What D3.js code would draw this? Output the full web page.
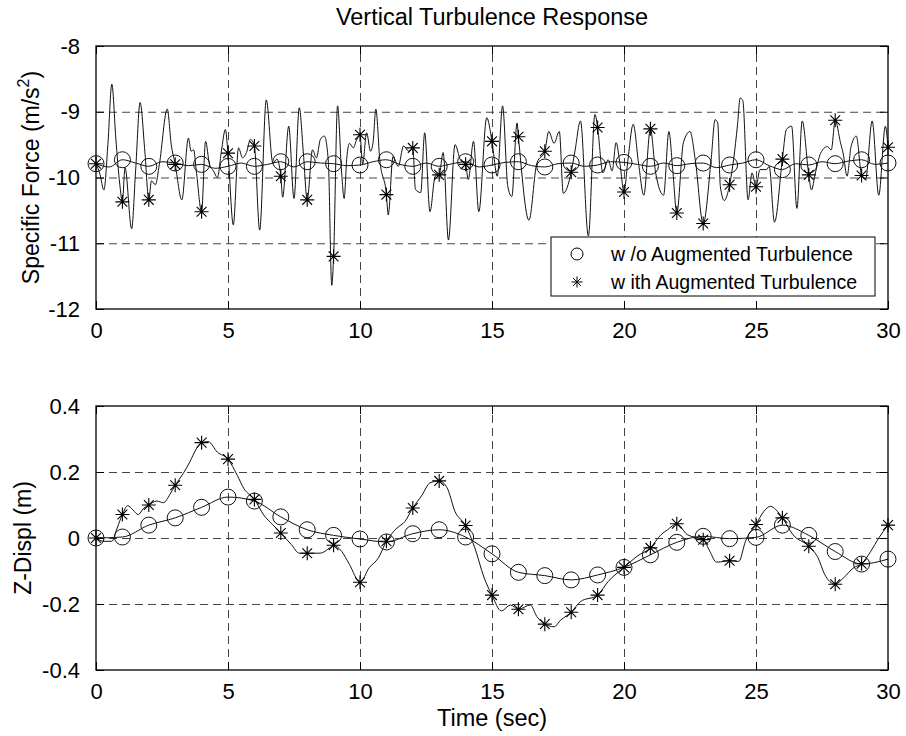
<!DOCTYPE html>
<html lang="en">
<head>
  <meta charset="UTF-8">
  <title>Vertical Turbulence Response</title>
  <script src="https://cdn.jsdelivr.net/npm/d3@7"></script>
  <style>
    body { margin: 0; background: #fff; }
    svg { display: block; font-family: "Liberation Sans", Arial, sans-serif; }
    .tick text { font-size: 22px; fill: #000; }
    .grid line { stroke: #444; stroke-dasharray: 8,5; }
    .grid path { display: none; }
    .inner path { display: none; }
    .inner line { stroke: #000; }
  </style>
</head>
<body>
<div id="chart"></div>
<script>
  // tick values
  const timeTicks = [0, 5, 10, 15, 20, 25, 30];
  const forceTicks = [-12, -11, -10, -9, -8];
  const displTicks = [-0.4, -0.2, 0, 0.2, 0.4];

  // specific force, without augmented turbulence (circles at whole seconds)
  const forceWoT = [0, 0.5, 1, 1.5, 2, 2.5, 3, 3.5, 4, 4.5, 5, 5.5, 6, 6.5, 7, 7.5, 8, 8.5, 9, 9.5, 10,
    10.5, 11, 11.5, 12, 12.5, 13, 13.5, 14, 14.5, 15, 15.5, 16, 16.5, 17, 17.5, 18, 18.5, 19, 19.5, 20,
    20.5, 21, 21.5, 22, 22.5, 23, 23.5, 24, 24.5, 25, 25.5, 26, 26.5, 27, 27.5, 28, 28.5, 29, 29.5, 30];
  const forceWoV = [-9.79, -9.84, -9.73, -9.78, -9.83, -9.76, -9.78, -9.82, -9.80, -9.86, -9.83, -9.78,
    -9.83, -9.80, -9.76, -9.84, -9.76, -9.78, -9.79, -9.82, -9.81, -9.76, -9.73, -9.80, -9.83, -9.78,
    -9.83, -9.79, -9.76, -9.84, -9.81, -9.77, -9.76, -9.82, -9.84, -9.79, -9.78, -9.83, -9.81, -9.76,
    -9.77, -9.80, -9.83, -9.78, -9.82, -9.79, -9.78, -9.85, -9.81, -9.78, -9.73, -9.82, -9.88, -9.79,
    -9.81, -9.76, -9.79, -9.75, -9.73, -9.80, -9.78];

  // specific force, with augmented turbulence (stars at whole seconds)
  const forceWithT = [0, 0.15, 0.3, 0.45, 0.6, 0.75, 0.9, 1, 1.1, 1.35, 1.5, 1.67, 1.85, 2, 2.1, 2.25, 2.4,
    2.7, 2.85, 3, 3.25, 3.5, 3.6, 3.7, 3.8, 4, 4.15, 4.3, 4.45, 4.6, 4.75, 4.9, 5, 5.2, 5.4, 5.55,
    5.7, 5.85, 6, 6.2, 6.45, 6.7, 6.85, 7, 7.07, 7.3, 7.5, 7.7, 7.85, 8, 8.2, 8.35, 8.5, 8.65, 8.8,
    8.93, 9, 9.15, 9.3, 9.4, 9.5, 9.6, 9.75, 9.85, 10, 10.1, 10.25, 10.4, 10.5, 10.6, 10.75, 11, 11.07,
    11.25, 11.45, 11.65, 11.85, 12, 12.1, 12.3, 12.45, 12.65, 12.85, 13, 13.15, 13.35, 13.6, 13.8, 14,
    14.1, 14.3, 14.5, 14.8, 15, 15.2, 15.4, 15.6, 15.75, 15.95, 16, 16.4, 16.7, 17, 17.15, 17.35, 17.55,
    17.7, 18, 18.15, 18.35, 18.65, 18.9, 19, 19.2, 19.4, 19.55, 19.7, 19.85, 20, 20.15, 20.35, 20.55,
    20.75, 21, 21.2, 21.5, 21.7, 21.85, 22, 22.25, 22.5, 22.7, 23, 23.3, 23.45, 23.55, 23.65, 23.8, 24,
    24.15, 24.3, 24.4, 24.5, 24.7, 24.85, 25, 25.15, 25.4, 25.5, 25.7, 26, 26.15, 26.35, 26.55, 26.75,
    27, 27.1, 27.25, 27.45, 27.7, 27.85, 28, 28.2, 28.3, 28.45, 28.6, 28.8, 29, 29.15, 29.4, 29.65,
    29.9, 30];
  const forceWithV = [-9.79, -9.95, -10.19, -9.5, -8.58, -9.4, -10.1, -10.37, -9.85, -10.78, -9.9, -8.86,
    -9.6, -10.34, -10.05, -10.11, -9.8, -8.96, -9.5, -9.8, -10.34, -9.4, -9.6, -9.58, -9.9, -10.52,
    -9.45, -9.8, -9.9, -10.0, -9.6, -9.27, -9.63, -10.72, -9.55, -9.7, -9.62, -9.42, -9.52, -10.8,
    -8.82, -9.78, -9.72, -9.98, -10.3, -9.22, -10.32, -8.94, -9.6, -10.34, -9.58, -9.7, -9.42, -9.37,
    -9.75, -11.64, -11.2, -8.91, -9.9, -10.32, -9.7, -9.48, -9.55, -9.45, -9.35, -9.8, -9.32, -9.6,
    -9.45, -8.96, -9.73, -10.26, -10.57, -9.68, -9.83, -9.52, -9.6, -9.55, -10.18, -10.23, -9.32,
    -10.52, -9.98, -9.96, -9.62, -10.95, -9.5, -9.73, -9.8, -10.03, -9.45, -10.52, -9.09, -9.45,
    -9.98, -8.91, -10.14, -10.29, -9.17, -9.38, -10.65, -9.78, -9.6, -9.3, -9.48, -9.3, -10.24, -9.92,
    -9.58, -9.14, -10.89, -9.04, -9.24, -9.93, -9.73, -9.9, -9.47, -9.8, -10.22, -9.73, -9.19, -9.78,
    -10.27, -9.26, -9.93, -10.27, -9.3, -9.9, -10.54, -9.47, -9.3, -9.73, -10.7, -9.73, -9.12, -9.17,
    -10.14, -10.35, -10.11, -9.73, -9.2, -8.79, -8.83, -10.34, -9.93, -10.14, -9.88, -9.88, -9.83,
    -10.68, -9.72, -9.27, -9.22, -10.47, -9.14, -9.96, -10.19, -9.93, -9.63, -9.53, -9.58, -9.13,
    -9.47, -9.63, -9.98, -9.53, -9.37, -9.97, -10.03, -9.14, -10.27, -9.22, -9.54];

  // z displacement, without augmented turbulence
  const displWoT = [0, 1, 2, 3, 4, 5, 6, 7, 8, 9, 10, 11, 12, 13, 14, 15, 16, 17, 18, 19, 20,
    21, 22, 23, 24, 25, 26, 27, 28, 29, 30];
  const displWoV = [0, 0.003, 0.039, 0.061, 0.093, 0.124, 0.112, 0.064, 0.025, 0.008, -0.003,
    -0.012, 0.013, 0.025, 0.003, -0.048, -0.104, -0.114, -0.127, -0.112, -0.089,
    -0.051, -0.013, 0.005, -0.002, 0.002, 0.039, 0.008, -0.041, -0.079, -0.064];

  // z displacement, with augmented turbulence
  const displWithT = [0, 0.3, 0.6, 0.8, 1, 1.2, 1.4, 1.6, 1.8, 2, 2.3, 2.55, 2.8, 3, 3.3, 3.55, 3.8,
    4, 4.25, 4.6, 5, 5.35, 5.6, 6, 6.35, 6.7, 7, 7.4, 7.7, 8, 8.5, 8.85, 9, 9.3, 9.6, 10, 10.35,
    10.7, 11, 11.4, 11.7, 12, 12.35, 12.65, 13, 13.3, 13.6, 14, 14.35, 14.7, 15, 15.35, 15.7, 16,
    16.45, 16.7, 17, 17.35, 17.6, 18, 18.35, 19, 19.4, 20, 20.5, 21, 21.4, 21.65, 22, 22.4, 23, 23.25,
    23.5, 23.8, 24, 24.35, 24.6, 25, 25.3, 25.55, 25.75, 26, 26.4, 27, 27.35, 27.6, 28, 28.3, 28.7,
    29, 29.35, 29.65, 30];
  const displWithV = [0, -0.01, -0.01, 0.03, 0.071, 0.098, 0.085, 0.071, 0.09, 0.1, 0.112, 0.107,
    0.132, 0.16, 0.195, 0.23, 0.27, 0.289, 0.292, 0.26, 0.239, 0.19, 0.15, 0.117, 0.07, 0.04, 0.015,
    -0.02, -0.046, -0.046, -0.046, -0.03, -0.022, -0.04, -0.08, -0.134, -0.09, -0.06, -0.01, 0.03,
    0.05, 0.091, 0.13, 0.167, 0.173, 0.152, 0.08, 0.038, -0.03, -0.12, -0.173, -0.221, -0.203, -0.216,
    -0.203, -0.238, -0.261, -0.269, -0.249, -0.225, -0.193, -0.173, -0.132, -0.089, -0.055, -0.03,
    0.01, 0.025, 0.043, 0.01, -0.005, -0.04, -0.073, -0.071, -0.069, -0.071, -0.01, 0.041, 0.081,
    0.096, 0.086, 0.061, 0.01, -0.025, -0.06, -0.11, -0.14, -0.122, -0.09, -0.078, -0.04, 0.0, 0.039];

  const legendLabels = ["w /o Augmented Turbulence", "w ith Augmented Turbulence"];

  const w = 906, h = 736;
  const left = 96, right = 888;

  const svg = d3.select("#chart").append("svg")
    .attr("width", w).attr("height", h);

  svg.append("text")
    .attr("x", (left + right) / 2).attr("y", 25)
    .attr("text-anchor", "middle").attr("font-size", 23.5)
    .text("Vertical Turbulence Response");

  const xScale = d3.scaleLinear().domain([0, 30]).range([left, right]);

  // MATLAB style asterisk
  const star = (s) => `M${-s},0H${s}M0,${-s}V${s}` +
    `M${-s * 0.7},${-s * 0.7}L${s * 0.7},${s * 0.7}M${-s * 0.7},${s * 0.7}L${s * 0.7},${-s * 0.7}`;

  const pairs = (t, v) => t.map((d, i) => [d, v[i]]);
  const whole = (t, v) => pairs(t, v).filter(d => Number.isInteger(d[0]));

  function panel(top, bottom, yDomain, yTicks, woT, woV, withT, withV, label, labelX) {
    const yScale = d3.scaleLinear().domain(yDomain).range([bottom, top]);
    const g = svg.append("g");

    // dashed grid
    g.append("g").attr("class", "grid")
      .attr("transform", `translate(0,${bottom})`)
      .call(d3.axisBottom(xScale).tickValues(timeTicks.slice(1, -1)).tickSize(-(bottom - top)).tickFormat(""));
    g.append("g").attr("class", "grid")
      .attr("transform", `translate(${left},0)`)
      .call(d3.axisLeft(yScale).tickValues(yTicks.slice(1, -1)).tickSize(-(right - left)).tickFormat(""));

    const line = d3.line().x(d => xScale(d[0])).y(d => yScale(d[1])).curve(d3.curveMonotoneX);

    // without augmented turbulence
    g.append("path").datum(pairs(woT, woV))
      .attr("d", line).attr("fill", "none")
      .attr("stroke", "#111").attr("stroke-width", 1);
    g.selectAll(".circ").data(whole(woT, woV)).enter().append("circle")
      .attr("cx", d => xScale(d[0])).attr("cy", d => yScale(d[1])).attr("r", 8)
      .attr("fill", "none").attr("stroke", "#111").attr("stroke-width", 1);

    // with augmented turbulence
    g.append("path").datum(pairs(withT, withV))
      .attr("d", line).attr("fill", "none")
      .attr("stroke", "#111").attr("stroke-width", 1);
    g.selectAll(".star").data(whole(withT, withV)).enter().append("path")
      .attr("transform", d => `translate(${xScale(d[0])},${yScale(d[1])})`)
      .attr("d", star(7)).attr("stroke", "#000").attr("stroke-width", 1.1);

    // box, ticks and labels
    g.append("rect").attr("x", left).attr("y", top)
      .attr("width", right - left).attr("height", bottom - top)
      .attr("fill", "none").attr("stroke", "#000").attr("stroke-width", 1.3);

    g.append("g").attr("class", "inner").attr("transform", `translate(0,${bottom})`)
      .call(d3.axisBottom(xScale).tickValues(timeTicks).tickSizeInner(-8).tickSizeOuter(0)
        .tickPadding(13).tickFormat(d => String(d)));
    g.append("g").attr("class", "inner").attr("transform", `translate(0,${top})`)
      .call(d3.axisTop(xScale).tickValues(timeTicks).tickSizeInner(-8).tickSizeOuter(0).tickFormat(""));
    g.append("g").attr("class", "inner").attr("transform", `translate(${left},0)`)
      .call(d3.axisLeft(yScale).tickValues(yTicks).tickSizeInner(-8).tickSizeOuter(0)
        .tickPadding(16).tickFormat(d => String(d)));
    g.append("g").attr("class", "inner").attr("transform", `translate(${right},0)`)
      .call(d3.axisRight(yScale).tickValues(yTicks).tickSizeInner(-8).tickSizeOuter(0).tickFormat(""));

    const yl = g.append("text")
      .attr("transform", `translate(${labelX},${(top + bottom) / 2}) rotate(-90)`)
      .attr("text-anchor", "middle").attr("font-size", 23);
    label(yl);
    return yScale;
  }

  panel(46, 309, [-12, -8], forceTicks, forceWoT, forceWoV, forceWithT, forceWithV,
    t => {
      t.append("tspan").text("Specific Force (m/s");
      t.append("tspan").attr("font-size", 16).attr("dy", -10).text("2");
      t.append("tspan").attr("dy", 10).text(")");
    }, 39);

  panel(406, 670, [-0.4, 0.4], displTicks, displWoT, displWoV, displWithT, displWithV,
    t => t.text("Z-Displ (m)"), 31);

  svg.append("text")
    .attr("x", (left + right) / 2).attr("y", 726)
    .attr("text-anchor", "middle").attr("font-size", 23.5)
    .text("Time (sec)");

  // legend
  const lg = svg.append("g");
  lg.append("rect").attr("x", 551).attr("y", 237).attr("width", 324).attr("height", 59)
    .attr("fill", "#fff").attr("stroke", "#000").attr("stroke-width", 1);
  lg.append("circle").attr("cx", 577).attr("cy", 254).attr("r", 6)
    .attr("fill", "none").attr("stroke", "#000");
  lg.append("path").attr("transform", "translate(577,282)").attr("d", star(5.5)).attr("stroke", "#000");
  lg.selectAll(".lab").data(legendLabels).enter().append("text")
    .attr("x", 611).attr("y", (d, i) => 261 + i * 28)
    .attr("font-size", 19.5).text(d => d);
</script>
</body>
</html>
